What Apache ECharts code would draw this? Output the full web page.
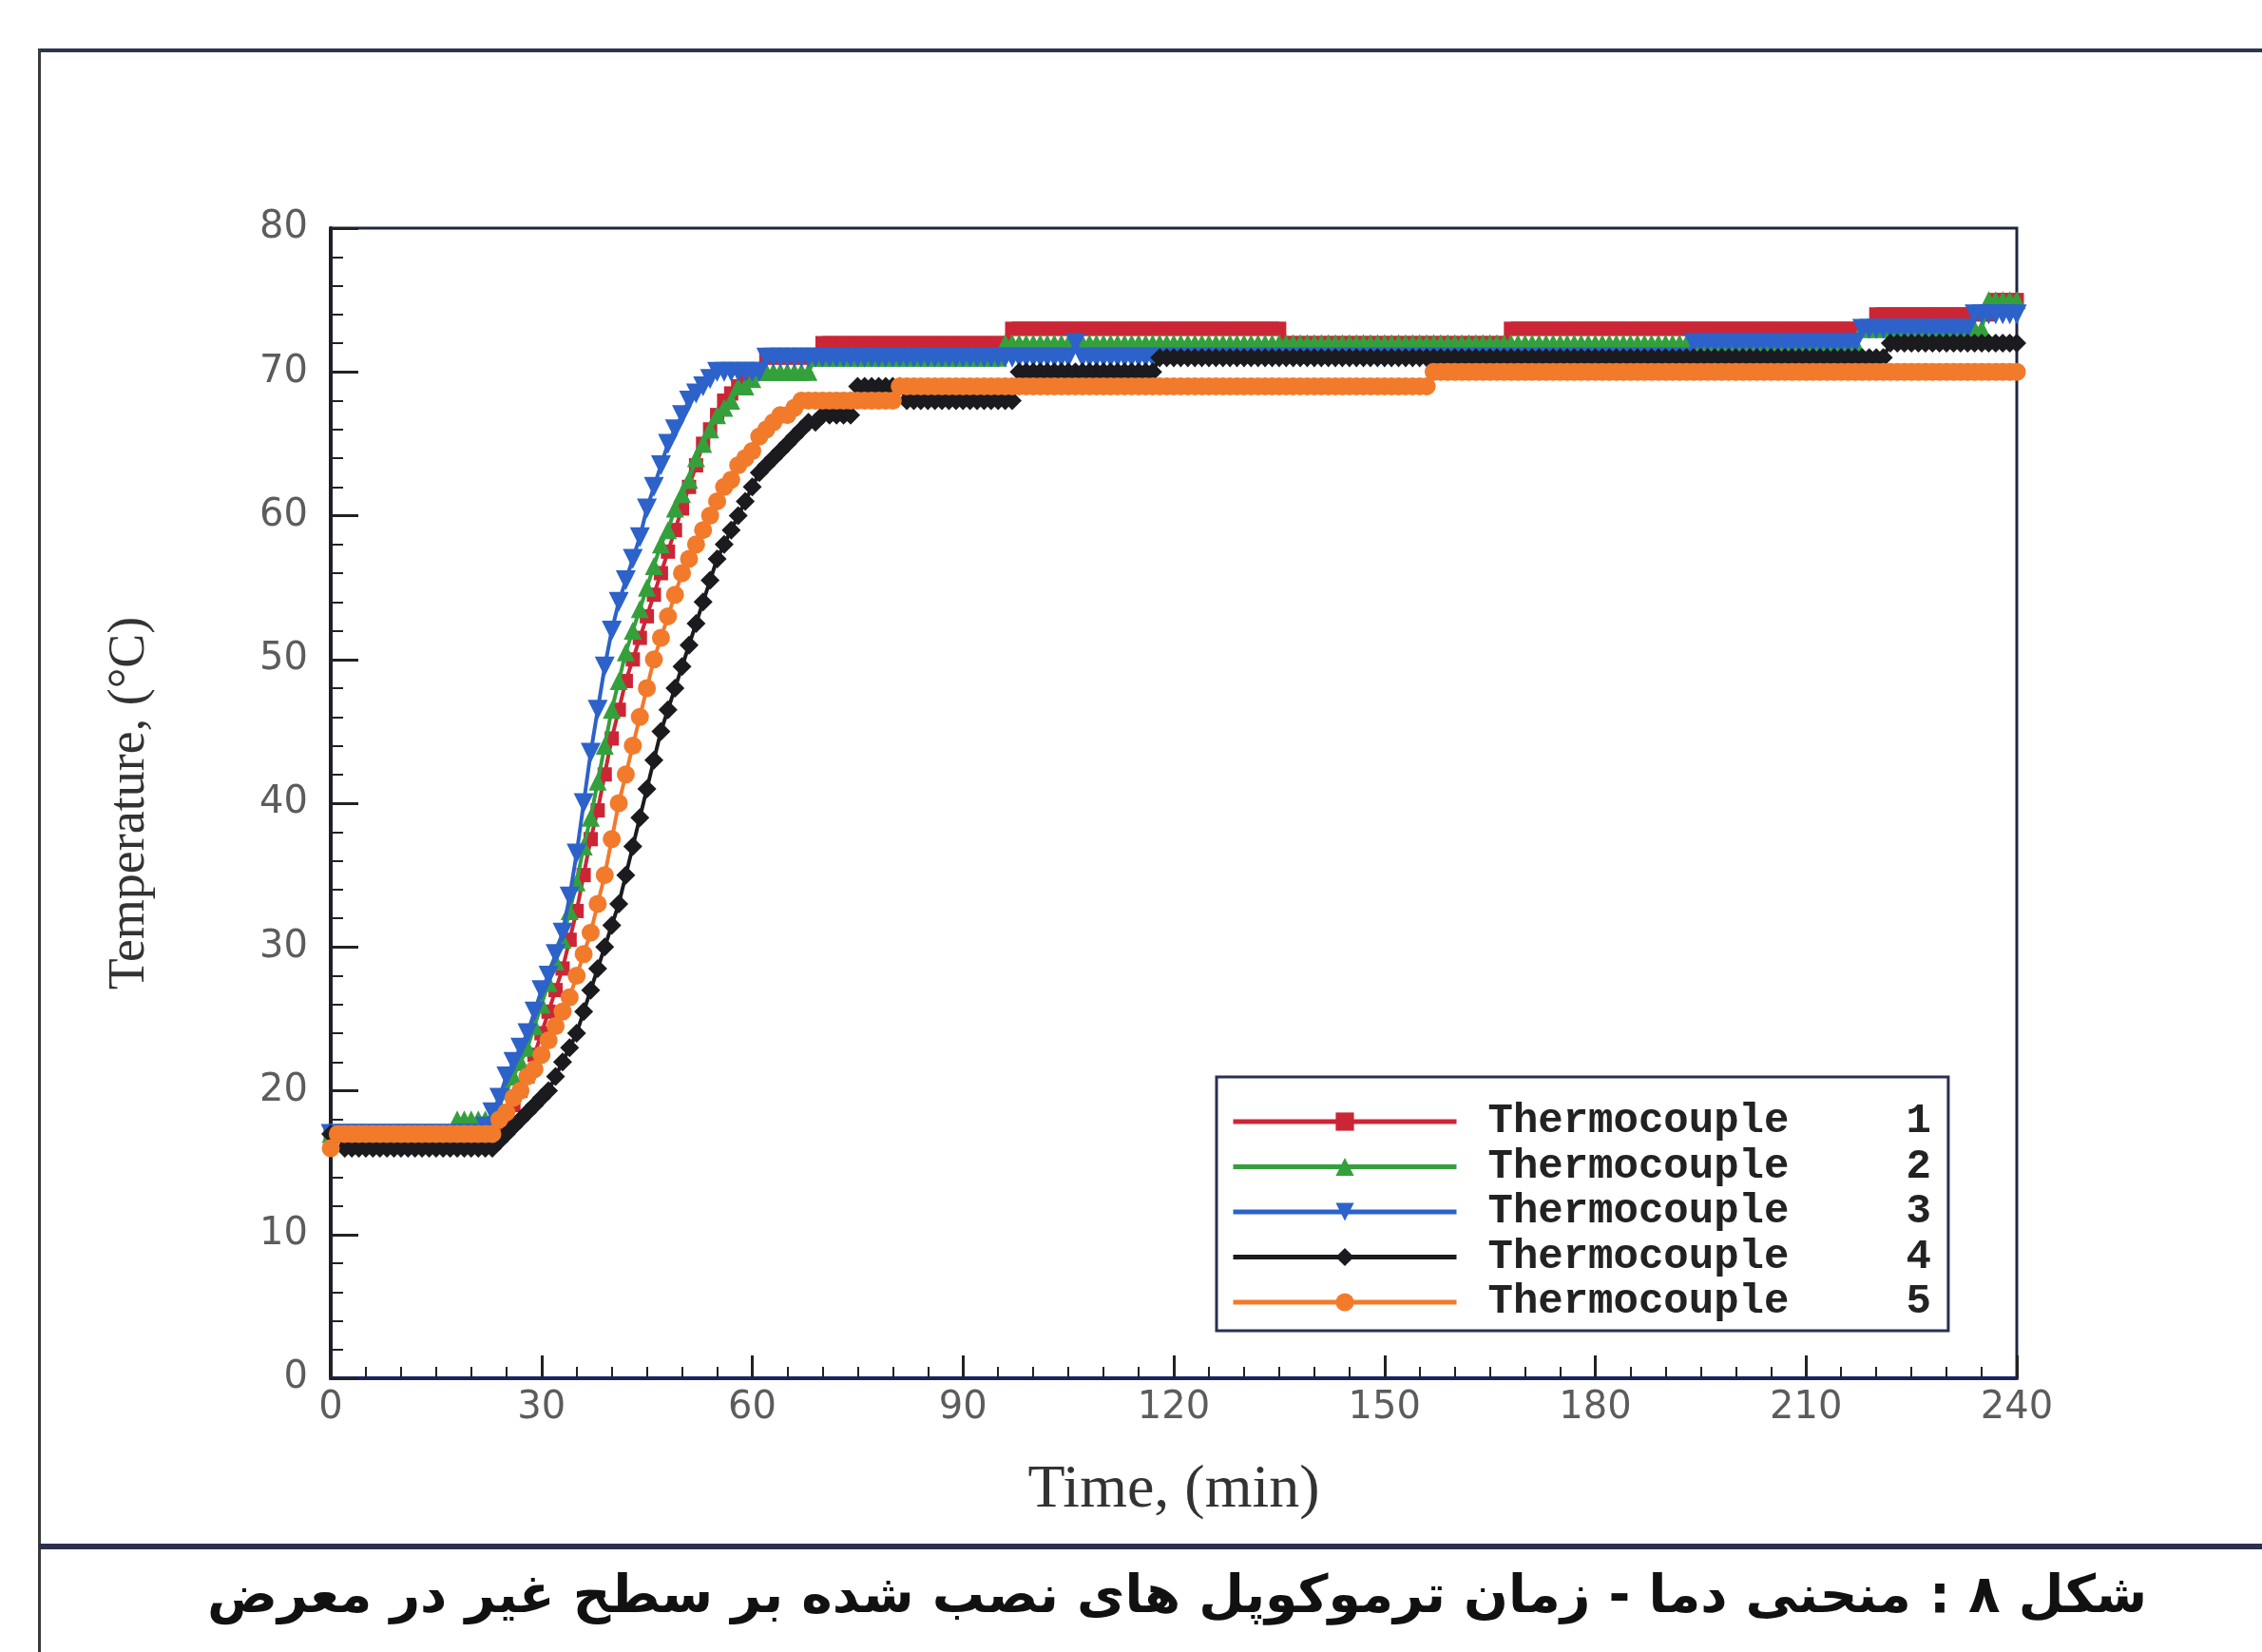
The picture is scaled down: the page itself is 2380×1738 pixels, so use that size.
<!DOCTYPE html>
<html><head><meta charset="utf-8">
<script src="https://cdn.jsdelivr.net/npm/echarts@6/dist/echarts.min.js"></script>
<style>html,body{margin:0;padding:0;background:#fff}#c{width:2380px;height:1738px}</style>
</head><body><div id="c"></div>
<script>
// Time (min)
const time = [
0,1,2,3,4,5,6,7,8,9,10,11,12,13,14,15,16,17,18,19,
20,21,22,23,24,25,26,27,28,29,30,31,32,33,34,35,36,37,38,39,
40,41,42,43,44,45,46,47,48,49,50,51,52,53,54,55,56,57,58,59,
60,61,62,63,64,65,66,67,68,69,70,71,72,73,74,75,76,77,78,79,
80,81,82,83,84,85,86,87,88,89,90,91,92,93,94,95,96,97,98,99,
100,101,102,103,104,105,106,107,108,109,110,111,112,113,114,115,116,117,118,119,
120,121,122,123,124,125,126,127,128,129,130,131,132,133,134,135,136,137,138,139,
140,141,142,143,144,145,146,147,148,149,150,151,152,153,154,155,156,157,158,159,
160,161,162,163,164,165,166,167,168,169,170,171,172,173,174,175,176,177,178,179,
180,181,182,183,184,185,186,187,188,189,190,191,192,193,194,195,196,197,198,199,
200,201,202,203,204,205,206,207,208,209,210,211,212,213,214,215,216,217,218,219,
220,221,222,223,224,225,226,227,228,229,230,231,232,233,234,235,236,237,238,239,
240];

// Thermocouple 1 (°C)
const tc1 = [
17,17,17,17,17,17,17,17,17,17,
17,17,17,17,17,17,17,17,17,17,
17,17,17,17,17.5,18,19,20,21,22.5,
24,25.5,27,28.5,30.5,32.5,35,37.5,39.5,42,
44.5,46.5,48.5,50,51.5,53,54.5,56,57.5,59,
60.5,62,63.5,65,66,67,68,68.5,69,69.5,
70,70,71,71,71,71,71,71,71,71,
72,72,72,72,72,72,72,72,72,72,
72,72,72,72,72,72,72,72,72,72,
72,72,72,72,72,72,72,73,73,73,
73,73,73,73,73,73,73,73,73,73,
73,73,73,73,73,73,73,73,73,73,
73,73,73,73,73,73,73,73,73,73,
73,73,73,73,73,73,72,72,72,72,
72,72,72,72,72,72,72,72,72,72,
72,72,72,72,72,72,72,72,72,72,
72,72,72,72,72,72,72,72,73,73,
73,73,73,73,73,73,73,73,73,73,
73,73,73,73,73,73,73,73,73,73,
73,73,73,73,73,73,73,73,73,73,
73,73,73,73,73,73,73,73,73,73,
73,73,73,73,73,73,73,73,73,73,
74,74,74,74,74,74,74,74,74,74,
74,74,74,74,74,74,74,75,75,75,
75];

// Thermocouple 2 (°C)
const tc2 = [
17,17,17,17,17,17,17,17,17,17,
17,17,17,17,17,17,17,17,18,18,
18,18,18,18,19,20,21,22,23,24.5,
26,27.5,29,30.5,32.5,34.5,37,39,41.5,44,
46.5,48.5,50.5,52,53.5,55,56.5,58,59,60.5,
61.5,62.5,64,65,66,67,67.5,68,69,69,
69.5,70,70,70,70,70,70,70,70,71,
71,71,71,71,71,71,71,71,71,71,
71,71,71,71,71,71,71,71,71,71,
71,71,71,71,71,71,72,72,72,72,
72,72,72,72,72,72,72,72,72,72,
72,72,72,72,72,72,72,72,72,72,
72,72,72,72,72,72,72,72,72,72,
72,72,72,72,72,72,72,72,72,72,
72,72,72,72,72,72,72,72,72,72,
72,72,72,72,72,72,72,72,72,72,
72,72,72,72,72,72,72,72,72,72,
72,72,72,72,72,72,72,72,72,72,
72,72,72,72,72,72,72,72,72,72,
72,72,72,72,72,72,72,72,72,72,
72,72,72,72,72,72,72,72,72,72,
72,72,72,72,72,72,72,72,73,73,
73,73,73,73,73,73,73,73,73,73,
73,73,73,73,73,73,75,75,75,75,
75];

// Thermocouple 3 (°C)
const tc3 = [
17,17,17,17,17,17,17,17,17,17,
17,17,17,17,17,17,17,17,17,17,
17,17,17.5,18.5,19.5,21,22,23,24,25.5,
27,28,29.5,31,33.5,36.5,40,43.5,46.5,49.5,
52,54,55.5,57,58.5,60.5,62,63.5,65,66,
67,68,68.5,69,69.5,70,70,70,70,70,
70,70,71,71,71,71,71,71,71,71,
71,71,71,71,71,71,71,71,71,71,
71,71,71,71,71,71,71,71,71,71,
71,71,71,71,71,71,71,71,71,71,
71,71,71,71,71,71,72,71,71,71,
71,71,71,71,71,71,71,71,71,71,
71,71,71,71,71,71,71,71,71,71,
71,71,71,71,71,71,71,71,71,71,
71,71,71,71,71,71,71,71,71,71,
71,71,71,71,71,71,71,71,71,71,
71,71,71,71,71,71,71,71,71,71,
71,71,71,71,71,71,71,71,71,71,
71,71,71,71,71,71,71,71,71,71,
71,71,71,71,72,72,72,72,72,72,
72,72,72,72,72,72,72,72,72,72,
72,72,72,72,72,72,72,72,73,73,
73,73,73,73,73,73,73,73,73,73,
73,73,73,73,74,74,74,74,74,74,
74];

// Thermocouple 4 (°C)
const tc4 = [
17,17,16,16,16,16,16,16,16,16,
16,16,16,16,16,16,16,16,16,16,
16,16,16,16,16.5,17,17.5,18,18.5,19,
19.5,20,21,22,23,24,25.5,27,28.5,30,
31.5,33,35,37,39,41,43,45,46.5,48,
49.5,51,52.5,54,55.5,57,58,59,60,61,
62,63,63.5,64,64.5,65,65.5,66,66.5,66.5,
67,67,67,67,67,69,69,69,69,69,
69,69,68,68,68,68,68,68,68,68,
68,68,68,68,68,68,68,68,70,70,
70,70,70,70,70,70,70,70,70,70,
70,70,70,70,70,70,70,70,71,71,
71,71,71,71,71,71,71,71,71,71,
71,71,71,71,71,71,71,71,71,71,
71,71,71,71,71,71,71,71,71,71,
71,71,71,71,71,71,71,71,71,71,
71,71,71,71,71,71,71,71,71,71,
71,71,71,71,71,71,71,71,71,71,
71,71,71,71,71,71,71,71,71,71,
71,71,71,71,71,71,71,71,71,71,
71,71,71,71,71,71,71,71,71,71,
71,71,71,71,71,71,71,71,71,71,
71,71,72,72,72,72,72,72,72,72,
72,72,72,72,72,72,72,72,72,72,
72];

// Thermocouple 5 (°C)
const tc5 = [
16,17,17,17,17,17,17,17,17,17,
17,17,17,17,17,17,17,17,17,17,
17,17,17,17,18,18.5,19.5,20,21,21.5,
22.5,23.5,24.5,25.5,26.5,28,29.5,31,33,35,
37.5,40,42,44,46,48,50,51.5,53,54.5,
56,57,58,59,60,61,62,62.5,63.5,64,
64.5,65.5,66,66.5,67,67,67.5,68,68,68,
68,68,68,68,68,68,68,68,68,68,
68,69,69,69,69,69,69,69,69,69,
69,69,69,69,69,69,69,69,69,69,
69,69,69,69,69,69,69,69,69,69,
69,69,69,69,69,69,69,69,69,69,
69,69,69,69,69,69,69,69,69,69,
69,69,69,69,69,69,69,69,69,69,
69,69,69,69,69,69,69,69,69,69,
69,69,69,69,69,69,69,70,70,70,
70,70,70,70,70,70,70,70,70,70,
70,70,70,70,70,70,70,70,70,70,
70,70,70,70,70,70,70,70,70,70,
70,70,70,70,70,70,70,70,70,70,
70,70,70,70,70,70,70,70,70,70,
70,70,70,70,70,70,70,70,70,70,
70,70,70,70,70,70,70,70,70,70,
70,70,70,70,70,70,70,70,70,70,
70];

const seriesNames = ['Thermocouple 1','Thermocouple 2','Thermocouple 3','Thermocouple 4','Thermocouple 5'];
const seriesValues = [tc1, tc2, tc3, tc4, tc5];
const xTitle = 'Time, (min)';
const yTitle = 'Temperature, (°C)';
const caption = 'شکل ۸ : منحنی دما - زمان ترموکوپل های نصب شده بر سطح غیر در معرض';

const colors = ['#cc2636', '#34a03c', '#2c62c9', '#1b1b1f', '#f27a2b'];
const symbols = ['rect', 'triangle', 'triangle', 'diamond', 'circle'];
const rotates = [0, 0, 180, 0, 0];
const sizes = [15, 19, 21, 20, 19];

const chart = echarts.init(document.getElementById('c'), null, {renderer: 'canvas'});

const series = seriesNames.map((name, k) => ({
  name: name,
  type: 'line',
  data: time.map((t, i) => [t, seriesValues[k][i]]),
  symbol: symbols[k],
  symbolRotate: rotates[k],
  symbolSize: sizes[k],
  showAllSymbol: true,
  clip: false,
  lineStyle: {color: colors[k], width: 4},
  itemStyle: {color: colors[k]},
  z: 2 + k
}));

const tickFont = {fontFamily: 'DejaVu Sans', fontSize: 40, color: '#5c5c5c'};
const legendRichBase = {fontFamily: 'Liberation Mono', fontWeight: 'bold', fontSize: 44, color: '#222', lineHeight: 40};

chart.setOption({
  animation: false,
  backgroundColor: '#fff',
  grid: {left: 348, right: 258, top: 240, bottom: 288, show: true, borderColor: '#1f2640', borderWidth: 3, backgroundColor: 'transparent'},
  xAxis: {
    type: 'value', min: 0, max: 240, interval: 30,
    name: xTitle, nameLocation: 'middle', nameGap: 86,
    nameTextStyle: {fontFamily: 'Liberation Serif', fontSize: 64, color: '#333'},
    axisLine: {show: true, lineStyle: {color: '#1a2560', width: 4}},
    axisTick: {show: true, inside: true, length: 24, lineStyle: {color: '#222', width: 3}},
    minorTick: {show: true, splitNumber: 6, length: 12, lineStyle: {color: '#222', width: 2}},
    axisLabel: Object.assign({margin: 12}, tickFont),
    splitLine: {show: false}
  },
  yAxis: {
    type: 'value', min: 0, max: 80, interval: 10,
    name: yTitle, nameLocation: 'middle', nameGap: 184,
    nameTextStyle: {fontFamily: 'Liberation Serif', fontSize: 54, color: '#333'},
    axisLine: {show: true, lineStyle: {color: '#1d1f2b', width: 4}},
    axisTick: {show: true, inside: true, length: 29, lineStyle: {color: '#222', width: 3}},
    minorTick: {show: true, splitNumber: 5, length: 13, lineStyle: {color: '#222', width: 2}},
    axisLabel: Object.assign({margin: 24}, tickFont),
    splitLine: {show: false}
  },
  legend: {
    orient: 'vertical', left: 1280, top: 1133,
    padding: [25, 18, 8, 15],
    borderColor: '#2a3050', borderWidth: 3, backgroundColor: '#fff',
    itemWidth: 235, itemHeight: 24, itemGap: 3.5,
    lineStyle: {width: 5},
    data: seriesNames,
    formatter: function (name) {
      const k = name.lastIndexOf(' ');
      return '{a|' + name.slice(0, k) + '}{b|' + name.slice(k + 1) + '}';
    },
    textStyle: {
      padding: [0, 0, 0, 28],
      rich: {
        a: Object.assign({width: 440}, legendRichBase),
        b: Object.assign({}, legendRichBase)
      }
    }
  },
  graphic: [
    {type: 'rect', shape: {x: 41, y: 51, width: 2339, height: 4}, style: {fill: '#2b3552'}, z: 100},
    {type: 'rect', shape: {x: 40, y: 51, width: 3, height: 1687}, style: {fill: '#3a3a3a'}, z: 100},
    {type: 'rect', shape: {x: 41, y: 1624, width: 2339, height: 6}, style: {fill: '#2b3050'}, z: 100},
    {type: 'text', x: 2259, y: 1682, z: 100,
      style: {text: caption, align: 'right', verticalAlign: 'middle', font: 'bold 55px "DejaVu Sans"', fill: '#111'}}
  ],
  series: series
});
</script>
</body></html>
